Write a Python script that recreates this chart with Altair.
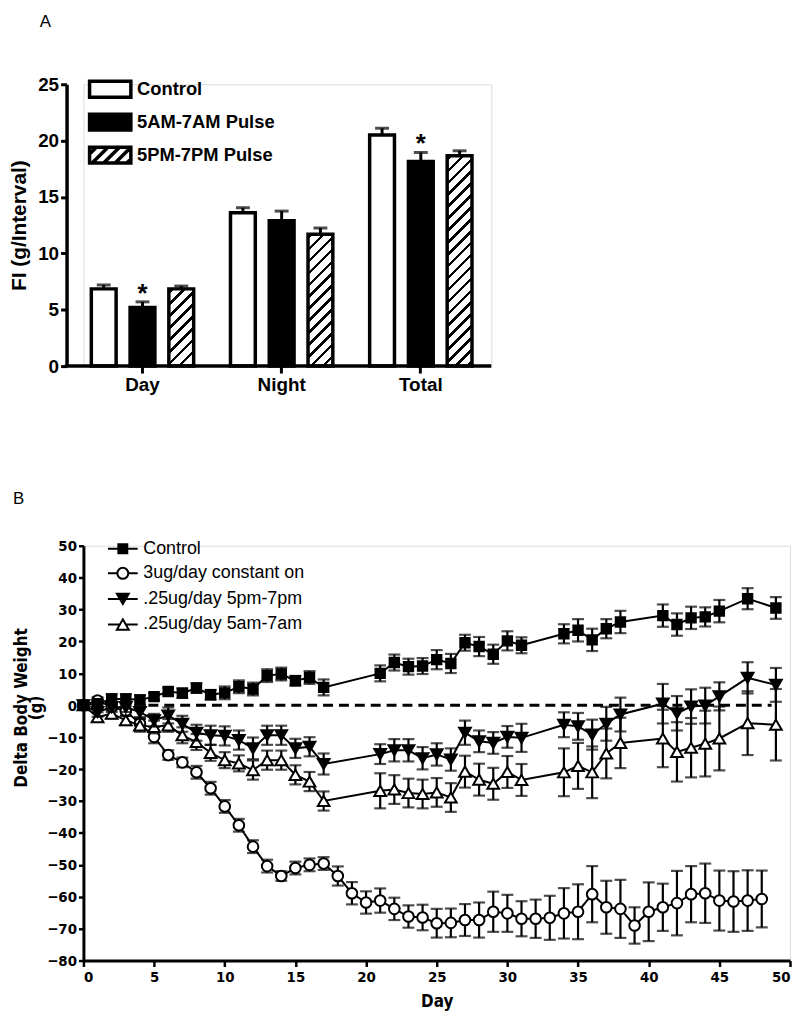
import altair as alt
import pandas as pd

# ---------------- Panel A data ----------------
fi_categories = ["Day", "Night", "Total"]
fi_groups = ["Control", "5AM-7AM Pulse", "5PM-7PM Pulse"]
fi_control = [6.85, 13.6, 20.5]
fi_control_err = [0.35, 0.45, 0.6]
fi_am = [5.2, 12.9, 18.15]
fi_am_err = [0.5, 0.85, 0.8]
fi_pm = [6.85, 11.7, 18.65]
fi_pm_err = [0.25, 0.55, 0.45]
fi_significant = [("Day", "5AM-7AM Pulse"), ("Total", "5AM-7AM Pulse")]
fi_ticks = [0, 5, 10, 15, 20, 25]

# ---------------- Panel B data ----------------
series_names = ["Control", "3ug/day constant on", ".25ug/day 5pm-7pm", ".25ug/day 5am-7am"]

pulse_days = list(range(0, 18)) + list(range(21, 32)) + list(range(34, 39)) + list(range(41, 46)) + [47, 49]
control_vals = [0, 0.5, 2.0, 2.0, 1.7, 2.7, 4.3, 3.8, 5.4, 3.3, 3.9, 5.8, 5.1, 9.3, 9.8, 7.7, 8.7, 5.6,
                10.0, 13.4, 12.1, 12.3, 14.3, 13.1, 19.6, 18.4, 16.0, 20.2, 18.8,
                22.4, 23.5, 20.5, 24.0, 26.1,
                28.1, 25.3, 27.4, 27.7, 29.5,
                33.4, 30.5]
control_err = [0.5, 1.0, 1.5, 1.5, 1.5, 1.0, 1.2, 1.5, 1.5, 1.5, 2.0, 2.0, 2.0, 2.0, 2.0, 1.5, 2.0, 2.5,
               2.5, 2.5, 2.5, 2.5, 3.0, 3.0, 2.5, 3.0, 3.0, 3.0, 2.5,
               3.0, 3.5, 3.5, 3.0, 3.5,
               3.5, 3.5, 3.5, 3.0, 3.5,
               3.3, 3.4]

pm_vals = [0, -2.1, -0.6, -0.6, -2.1, -4.7, -3.2, -5.8, -8.6, -9.4, -9.6, -10.9, -13.5, -9.4, -9.4, -13.5, -13.0, -18.4,
           -15.3, -14.1, -14.1, -16.6, -15.4, -17.0, -8.6, -11.3, -11.8, -9.9, -10.2,
           -6.1, -6.6, -9.2, -5.8, -2.9,
           0.5, -2.5, -0.4, -0.1, 2.8,
           8.6, 6.4]
pm_err = [0.5, 1.5, 1.5, 1.5, 2.0, 2.0, 2.5, 2.5, 2.5, 3.0, 3.0, 3.0, 3.4, 3.0, 3.0, 3.0, 3.0, 3.3,
          3.1, 3.5, 3.5, 3.5, 3.5, 3.5, 3.8, 3.4, 3.4, 3.4, 4.4,
          3.9, 4.2, 4.7, 5.3, 5.3,
          6.2, 5.4, 5.4, 5.6, 4.4,
          4.9, 5.3]

am_vals = [0, -3.7, -2.6, -4.7, -6.3, -6.8, -6.3, -9.4, -11.5, -14.9, -17.2, -18.2, -20.3, -17.2, -17.2, -21.8, -23.9, -30.0,
           -26.8, -26.4, -27.5, -27.8, -27.3, -28.9, -20.8, -23.3, -24.6, -20.9, -23.4,
           -21.0, -19.0, -21.0, -15.1, -11.8,
           -10.4, -14.6, -13.3, -12.0, -10.4,
           -5.6, -6.1]
am_err = [0.5, 1.5, 1.5, 1.5, 2.0, 2.0, 2.0, 2.5, 2.5, 2.5, 2.5, 2.5, 3.0, 3.0, 3.0, 3.0, 3.0, 3.0,
          5.5, 4.5, 4.5, 4.5, 4.5, 4.5, 5.0, 5.0, 5.0, 5.0, 5.0,
          7.5, 7.2, 8.1, 7.8, 7.9,
          9.0, 9.3, 9.3, 10.3, 10.0,
          10.0, 11.2]

const_days = list(range(0, 49))
const_vals = [0, 1.5, -0.5, -1.8, -5.7, -9.9, -15.6, -17.9, -21.0, -26.0, -31.7, -37.6, -44.3, -50.4, -53.5, -51.0, -50.0, -49.6,
              -53.5, -58.9, -61.8, -61.2, -63.8, -66.2, -66.5, -68.3, -68.2, -67.3, -67.3,
              -64.7, -65.2, -66.9, -66.9, -66.6, -65.2, -64.7, -59.2, -63.3, -63.8, -69.0,
              -64.7, -63.3, -62.0, -59.2, -58.9, -61.2, -61.5, -61.2, -60.7]
const_err = [0.5, 1.0, 1.0, 1.5, 2.0, 2.0, 1.5, 1.5, 2.0, 2.0, 2.0, 2.0, 2.0, 2.0, 1.5, 2.0, 2.0, 2.0,
             3.0, 3.5, 3.5, 3.8, 3.5, 3.5, 4.0, 4.5, 4.5, 5.0, 5.5,
             6.3, 5.8, 5.5, 6.0, 6.9, 7.9, 8.6, 8.8, 8.3, 9.1, 5.7,
             9.2, 7.4, 10.1, 8.8, 9.3, 9.4, 9.5, 9.5, 8.9]

zero_line = {"start": 4.6, "end": 48.7, "value": 0}
b_xticks = list(range(0, 51, 5))
b_yticks = list(range(-80, 51, 10))

# ---------------- styling constants ----------------
SANS = "Liberation Sans"
NARROW = "Liberation Sans Narrow, Arial Narrow, DejaVu Sans Condensed, sans-serif"
A_W, A_H = 411, 284
B_W, B_H = 712, 418

# ================= Panel A =================
rowsA = []
for gi, (g, vals, errs) in enumerate(zip(fi_groups, [fi_control, fi_am, fi_pm],
                                          [fi_control_err, fi_am_err, fi_pm_err])):
    for ci, c in enumerate(fi_categories):
        rowsA.append({"category": c, "group": g, "mean": vals[ci], "err": errs[ci],
                      "top": vals[ci] + errs[ci],
                      "sig": (c, g) in fi_significant})
dfA = pd.DataFrame(rowsA)

x_enc = alt.X("category:N", sort=fi_categories,
              scale=alt.Scale(domain=fi_categories, range=[-10.6, 410.1], paddingInner=0, paddingOuter=0),
              axis=alt.Axis(domain=False, ticks=True, tickSize=7, tickWidth=3, tickColor="black",
                            labelFont=SANS, labelFontSize=19, labelFontWeight="bold", labelColor="black",
                            labelPadding=3, labelAngle=0, title=None))
xoff_enc = alt.XOffset("group:N", sort=fi_groups,
                       scale=alt.Scale(domain=fi_groups, paddingInner=0.36, paddingOuter=0.475))
y_axis_A = alt.Axis(values=fi_ticks, offset=17, grid=False, domainColor="black", domainWidth=3.5,
                    tickColor="black", tickWidth=3, tickSize=6, labelFont=SANS, labelFontSize=19,
                    labelFontWeight="bold", labelColor="black", labelPadding=2, labelOverlap=False,
                    title="FI (g/Interval)", titleFont=SANS, titleFontSize=21, titleFontWeight="bold",
                    titleColor="black", titleX=-47, titleBaseline="middle")
y_scale_A = alt.Scale(domain=[0, 25], nice=False, zero=True)


def yA(field):
    return alt.Y(field, type="quantitative", scale=y_scale_A, axis=y_axis_A)


baseA = alt.Chart(dfA).encode(x=x_enc, xOffset=xoff_enc, y=yA("mean"))

bar_control = baseA.mark_bar(fill="white", stroke="black", strokeWidth=3.5).transform_filter(
    alt.datum.group == fi_groups[0])
bar_am = baseA.mark_bar(fill="black", stroke="black", strokeWidth=3.5).transform_filter(
    alt.datum.group == fi_groups[1])


def hatch_gradient(w, h, period=12.0, lw=3.6, phase=4.0):
    """Diagonal '/' stripes as a linear gradient over the bar's bounding box."""
    L = w + h
    den = w * w + h * h
    stops = [{"offset": 0, "color": "white"}]
    c = phase
    while c - lw / 2 < L:
        a = max(0.0, (c - lw / 2) / L)
        b = min(1.0, (c + lw / 2) / L)
        stops += [{"offset": a, "color": "white"}, {"offset": a, "color": "black"},
                  {"offset": b, "color": "black"}, {"offset": b, "color": "white"}]
        c += period
    stops.append({"offset": 1, "color": "white"})
    return {"gradient": "linear", "x1": 0, "y1": 0,
            "x2": L * w / den, "y2": L * h / den, "stops": stops}


px_per_unit = A_H / 25.0
bar_w = 25.0
pm_layers = []
for ci, c in enumerate(fi_categories):
    h = fi_pm[ci] * px_per_unit
    pm_layers.append(
        baseA.mark_bar(fill=hatch_gradient(bar_w, h), stroke="black", strokeWidth=3.5)
        .transform_filter((alt.datum.group == fi_groups[2]) & (alt.datum.category == c)))

err_rule = baseA.mark_rule(color="black", strokeWidth=3).encode(y=yA("mean"), y2="top:Q")
err_cap = baseA.mark_tick(color="black", size=14, thickness=3, orient="horizontal").encode(y=yA("top"))
stars = baseA.mark_text(text="*", font=SANS, fontSize=26, fontWeight="bold", baseline="alphabetic",
                        color="black").encode(y=yA("top")).transform_filter(alt.datum.sig == True)

x_line_A = alt.Chart(pd.DataFrame({"mean": [0]})).mark_rule(color="black", strokeWidth=3.5).encode(
    y=yA("mean"), x=alt.value(-18.7), x2=alt.value(A_W))


def hatch_legend_path(hw=2.6, hh=1.0, period=1.45):
    parts = [f"M{-hw},{-hh}H{hw}V{hh}H{-hw}Z"]
    c = -hw - hh + period * 0.6
    while c < hw + hh:
        x0 = max(-hw, c - hh)
        x1 = min(hw, c + hh)
        if x1 - x0 > 0.05:
            parts.append(f"M{x0:.3f},{c - x0:.3f}L{x1:.3f},{c - x1:.3f}")
        c += period
    return "".join(parts)


rect_path = "M-2.6,-1H2.6V1H-2.6Z"
legend_A = alt.Legend(orient="none", legendX=17, legendY=-5, title=None, symbolSize=256,
                      symbolStrokeWidth=3.5, symbolStrokeColor="black", labelFont=SANS,
                      labelFontSize=18.5, labelFontWeight="bold", labelColor="black", labelLimit=500,
                      labelOffset=17, rowPadding=3.2, labelBaseline="middle")
leg_layer_A = alt.Chart(pd.DataFrame({"group": fi_groups, "mean": [None] * 3})).mark_point(
    opacity=1, strokeWidth=3.5).encode(
    y=yA("mean"),
    shape=alt.Shape("group:N", sort=fi_groups,
                    scale=alt.Scale(domain=fi_groups, range=[rect_path, rect_path, hatch_legend_path()]),
                    legend=legend_A),
    fill=alt.Fill("group:N", sort=fi_groups,
                  scale=alt.Scale(domain=fi_groups, range=["white", "black", "white"]),
                  legend=legend_A),
    stroke=alt.Stroke("group:N", sort=fi_groups,
                      scale=alt.Scale(domain=fi_groups, range=["black", "black", "black"]),
                      legend=legend_A))

panelA = alt.layer(bar_control, bar_am, *pm_layers, err_rule, err_cap, stars, x_line_A, leg_layer_A).properties(
    width=A_W, height=A_H,
    title=alt.Title("A", anchor="start", frame="group", dx=-44, offset=45, font=SANS, fontSize=17,
                    fontWeight="normal", color="black"))

# ================= Panel B =================
rowsB = []
for name, days, vals, errs in [(series_names[0], pulse_days, control_vals, control_err),
                               (series_names[1], const_days, const_vals, const_err),
                               (series_names[2], pulse_days, pm_vals, pm_err),
                               (series_names[3], pulse_days, am_vals, am_err)]:
    for d, v, e in zip(days, vals, errs):
        rowsB.append({"series": name, "day": d, "value": v, "lo": v - e, "hi": v + e})
dfB = pd.DataFrame(rowsB)

x_axis_B = alt.Axis(values=b_xticks, grid=False, domainColor="black", domainWidth=3,
                    tickColor="black", tickWidth=2.5, tickSize=6, labelFont=NARROW,
                    labelFontSize=15, labelFontWeight="bold", labelColor="black",
                    labelPadding=3, labelOverlap=False, title="Day", titleFont=NARROW,
                    titleFontSize=17, titleFontWeight="bold", titleColor="black", titlePadding=9)
x_scale_B = alt.Scale(domain=[0, 50], nice=False)
y_axis_B = alt.Axis(values=b_yticks, grid=False, domainColor="black", domainWidth=3,
                    tickColor="black", tickWidth=2.5, tickSize=5, labelFont=NARROW,
                    labelFontSize=15, labelFontWeight="bold", labelColor="black",
                    labelPadding=2, labelOverlap=False, title=["Delta Body Weight", "(g)"],
                    titleFont=NARROW, titleFontSize=17, titleFontWeight="bold",
                    titleColor="black", titleLineHeight=15, titleX=-62, titleY=163,
                    titleBaseline="middle")
y_scale_B = alt.Scale(domain=[-80, 50], nice=False, zero=False)


def xB(field):
    return alt.X(field, type="quantitative", scale=x_scale_B, axis=x_axis_B)


def yB(field):
    return alt.Y(field, type="quantitative", scale=y_scale_B, axis=y_axis_B)


baseB = alt.Chart(dfB).encode(x=xB("day"), y=yB("value"))

styles = {
    series_names[0]: dict(shape="square", fill="black", size=90),
    series_names[1]: dict(shape="circle", fill="white", size=115),
    series_names[2]: dict(shape="triangle-down", fill="black", size=140),
    series_names[3]: dict(shape="triangle-up", fill="white", size=140),
}

zero_df = pd.DataFrame({"day": [zero_line["start"]], "day2": [zero_line["end"]], "value": [zero_line["value"]]})
zero_rule = alt.Chart(zero_df).mark_rule(color="black", strokeWidth=3, strokeDash=[10, 6]).encode(
    x=xB("day"), x2="day2:Q", y=yB("value"))

layersB = [zero_rule]
for name in [series_names[1], series_names[3], series_names[2], series_names[0]]:
    st = styles[name]
    sub = baseB.transform_filter(alt.datum.series == name)
    layersB.append(sub.mark_rule(color="black", strokeWidth=2.2).encode(y=yB("lo"), y2="hi:Q"))
    layersB.append(sub.mark_tick(color="black", size=12, thickness=2.2, orient="horizontal").encode(y=yB("lo")))
    layersB.append(sub.mark_tick(color="black", size=12, thickness=2.2, orient="horizontal").encode(y=yB("hi")))
    layersB.append(sub.mark_line(color="black", strokeWidth=2))
    layersB.append(sub.mark_point(shape=st["shape"], fill=st["fill"], stroke="black", strokeWidth=2,
                                  size=st["size"], opacity=1, filled=False))

leg_paths_B = [
    "M-3,0H3M-0.9,-0.9H0.9V0.9H-0.9Z",
    "M-3,0H-1.1M1.1,0H3M-1.1,0A1.1,1.1,0,1,1,1.1,0A1.1,1.1,0,1,1,-1.1,0Z",
    "M-3,0H3M-1.2,-1.04L1.2,-1.04L0,1.04Z",
    "M-3,0H-0.6M0.6,0H3M0,-1.04L1.2,1.04L-1.2,1.04Z",
]
legend_B = alt.Legend(orient="none", legendX=30.7, legendY=-6, title=None, symbolSize=100,
                      symbolStrokeWidth=2, symbolStrokeColor="black", labelFont=SANS, labelFontSize=18,
                      labelColor="black", labelOffset=11.6, rowPadding=5.8, labelBaseline="middle",
                      labelLimit=500)
leg_layer_B = alt.Chart(pd.DataFrame({"series": series_names, "value": [None] * 4})).mark_point(
    opacity=1, strokeWidth=2).encode(
    y=yB("value"),
    shape=alt.Shape("series:N", sort=series_names,
                    scale=alt.Scale(domain=series_names, range=leg_paths_B), legend=legend_B),
    fill=alt.Fill("series:N", sort=series_names,
                  scale=alt.Scale(domain=series_names, range=["black", "white", "black", "white"]),
                  legend=legend_B),
    stroke=alt.Stroke("series:N", sort=series_names,
                      scale=alt.Scale(domain=series_names, range=["black"] * 4), legend=legend_B))
layersB.append(leg_layer_B)

panelB = alt.layer(*layersB).properties(
    width=B_W, height=B_H,
    title=alt.Title("B", anchor="start", frame="group", dx=-71, offset=31, font=SANS, fontSize=17,
                    fontWeight="normal", color="black"))

chart = alt.vconcat(panelA, panelB, spacing=94).resolve_scale(
    shape="independent", fill="independent", stroke="independent").resolve_legend(
    shape="independent", fill="independent", stroke="independent").properties(
    padding={"left": 0, "top": 0, "right": 0, "bottom": 0}
).configure_view(stroke=None).configure(background="white")

chart.save("out.html", embed_options={"renderer": "svg", "actions": False})
